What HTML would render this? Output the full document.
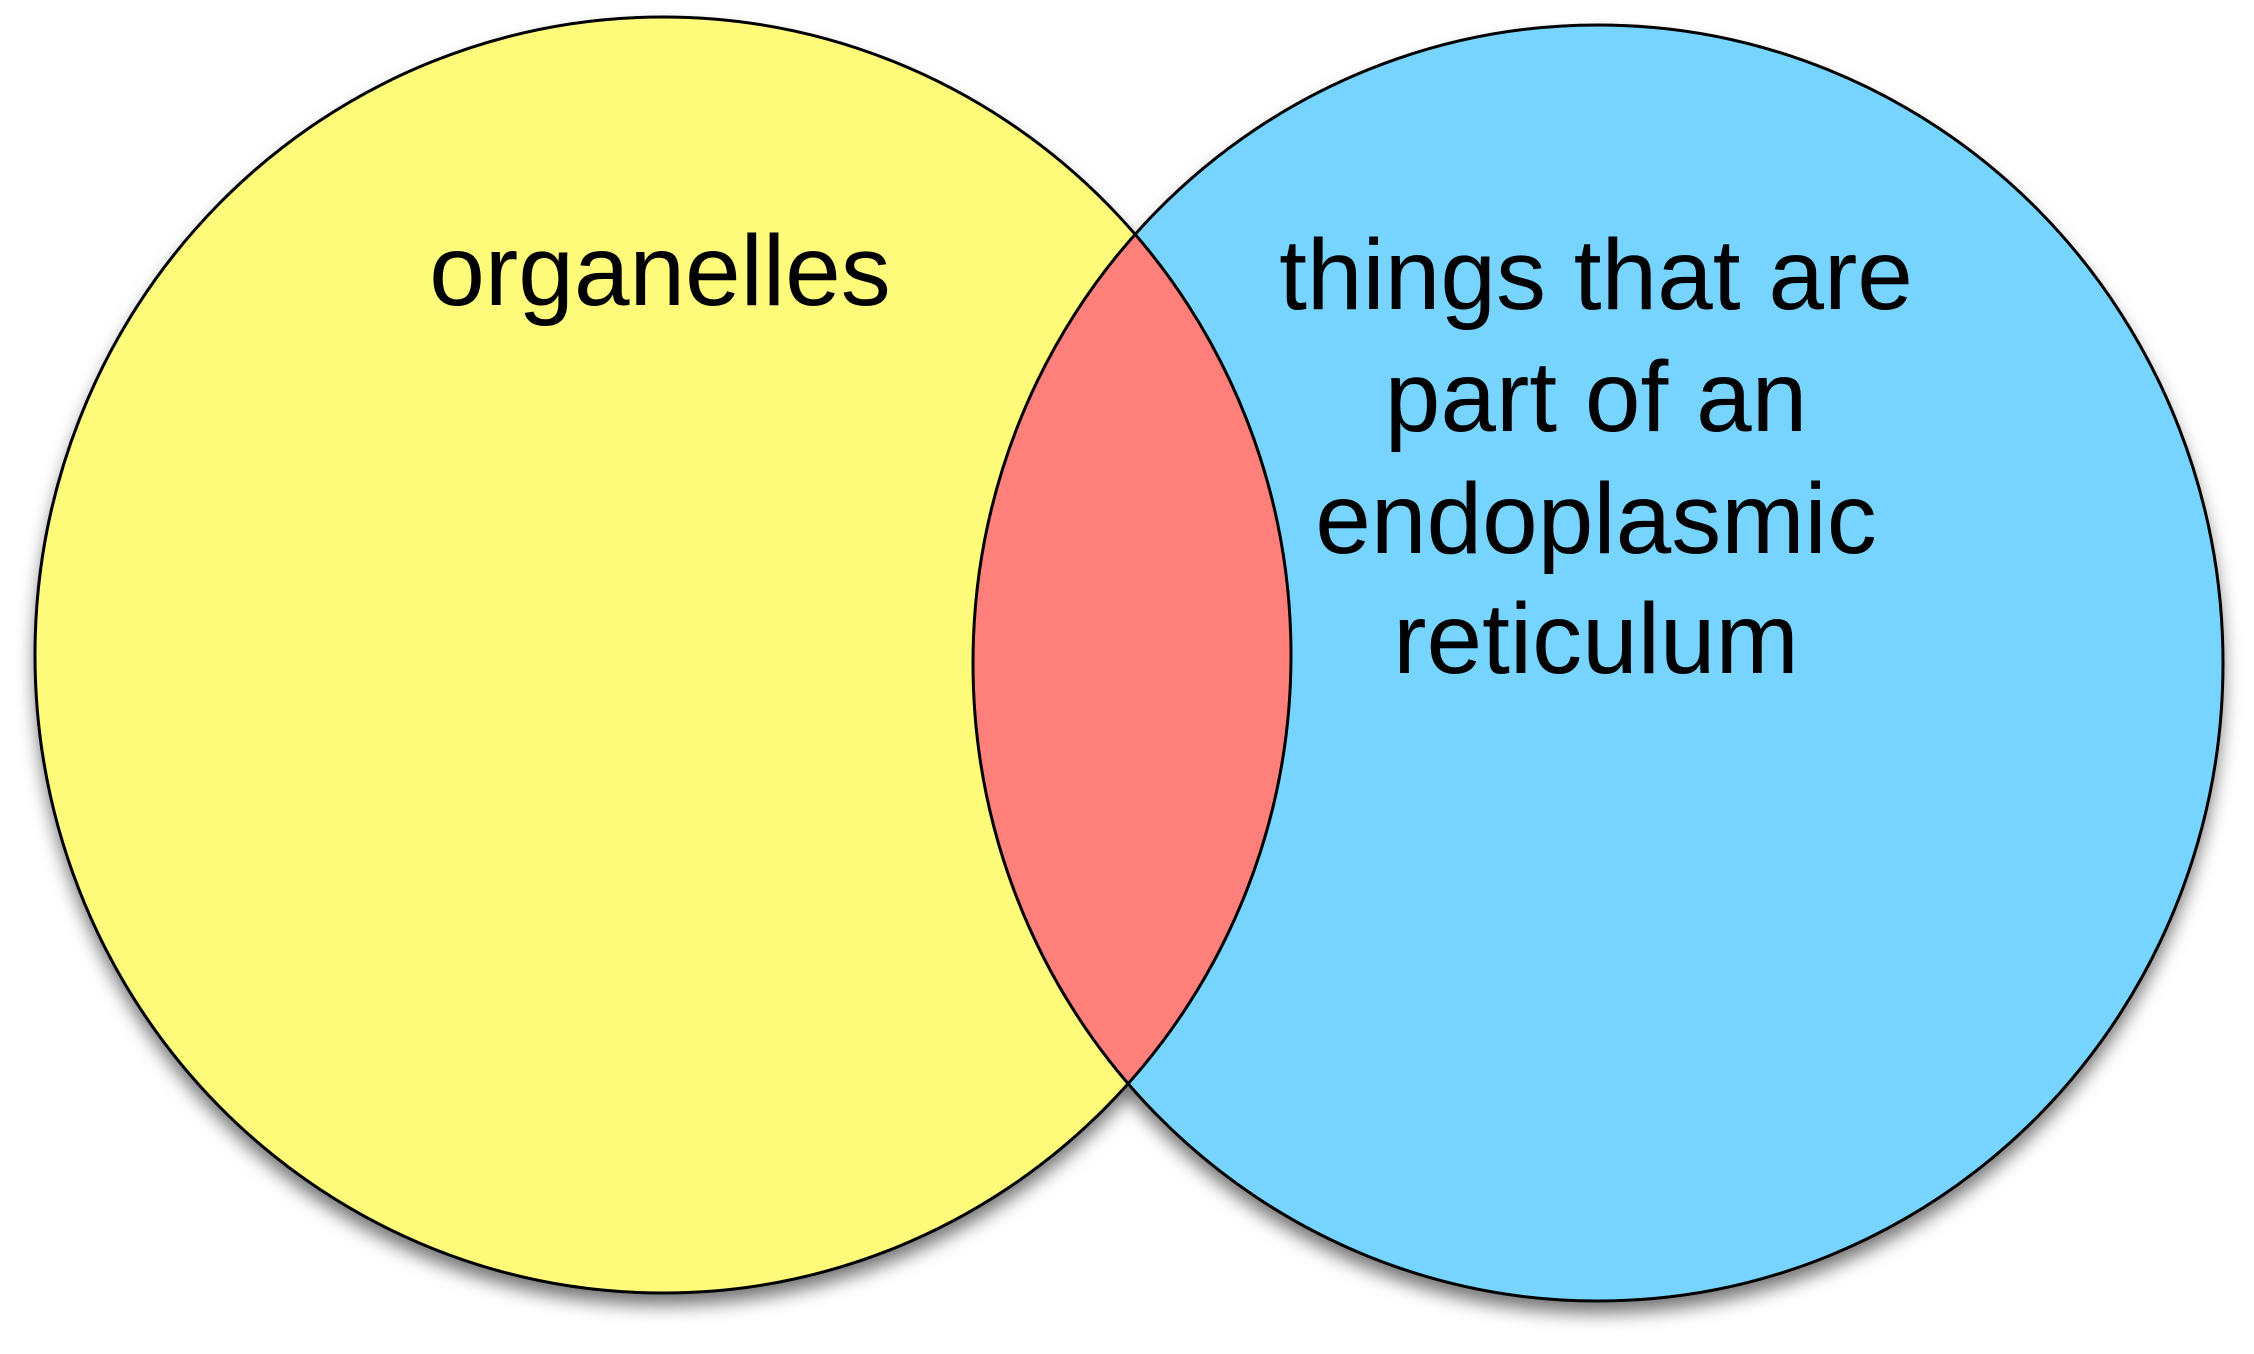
<!DOCTYPE html>
<html><head><meta charset="utf-8"><style>
html,body{margin:0;padding:0;background:#fff;width:2254px;height:1354px;overflow:hidden}
text{font-family:"Liberation Sans",sans-serif;font-size:100px;fill:#000}
</style></head><body>
<svg width="2254" height="1354" viewBox="0 0 2254 1354" xmlns="http://www.w3.org/2000/svg">
<defs>
<filter id="sh" x="-10%" y="-10%" width="120%" height="125%">
<feDropShadow dx="0" dy="12" stdDeviation="9" flood-color="#000" flood-opacity="0.55"/>
</filter>
<clipPath id="cl"><ellipse cx="663" cy="655" rx="628" ry="638"/></clipPath>
</defs>
<g filter="url(#sh)">
<ellipse cx="663" cy="655" rx="628" ry="638" fill="#FEFA7A"/>
<ellipse cx="1598" cy="663" rx="625" ry="638" fill="#76D4FF"/>
</g>
<ellipse cx="1598" cy="663" rx="625" ry="638" fill="#FF7F7A" clip-path="url(#cl)"/>
<ellipse cx="663" cy="655" rx="628" ry="638" fill="none" stroke="#000" stroke-width="3"/>
<ellipse cx="1598" cy="663" rx="625" ry="638" fill="none" stroke="#000" stroke-width="3"/>
<text x="660" y="305" text-anchor="middle">organelles</text>
<text x="1596" y="309" text-anchor="middle">things that are</text>
<text x="1596" y="431" text-anchor="middle">part of an</text>
<text x="1596" y="553" text-anchor="middle">endoplasmic</text>
<text x="1596" y="673" text-anchor="middle">reticulum</text>
</svg>
</body></html>
